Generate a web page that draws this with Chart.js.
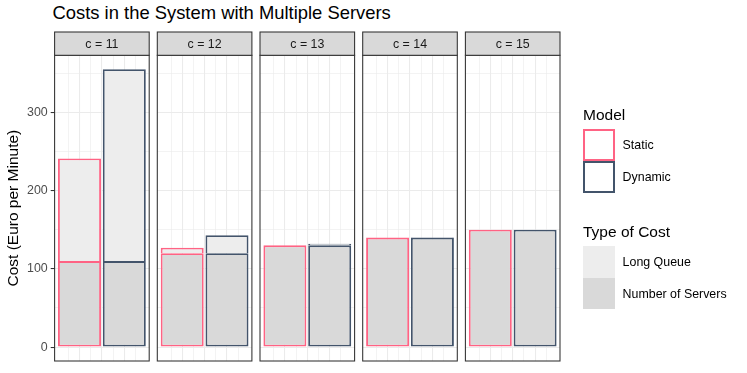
<!DOCTYPE html>
<html><head><meta charset="utf-8">
<script src="https://cdn.jsdelivr.net/npm/chart.js@4"></script>
<style>
body{margin:0;width:747px;height:373px;overflow:hidden;background:#fff;font-family:"Liberation Sans",Arial,sans-serif;}
#wrap{position:relative;width:747px;height:373px;}
canvas{position:absolute;left:0;top:0;}
.t{position:absolute;white-space:nowrap;line-height:20px;height:20px;color:#000;}
.key{position:absolute;box-sizing:border-box;}
</style></head><body><div id="wrap">
<div class="t" style="left:52.5px;top:2.5px;font-size:18.4px">Costs in the System with Multiple Servers</div>
</div>
<script>
// ---- data ----
const facets = ['c = 11', 'c = 12', 'c = 13', 'c = 14', 'c = 15'];
const models = ['Static', 'Dynamic'];
const costTypes = ['Long Queue', 'Number of Servers'];
const serversStatic = [110, 120, 130, 140, 150];
const serversDynamic = [110, 120, 130, 140, 150];
const longQueueStatic = [131, 7, 0, 0, 0];
const longQueueDynamic = [245, 23, 2, 0.4, 0];
const yTicks = [0, 100, 200, 300];

// ---- styles / layout ----
const PINK = 'rgb(255,99,132)', DARK = '#43546B';
const FILL_SERV = '#D9D9D9', FILL_LQ = '#EDEDED';
const W = 747, H = 373;
const PL0 = 54.6, PITCH = 102.7, PW = 94.6, PTOP = 55.3, PBOT = 361, STRIP_TOP = 32;
const yMinorTicks = [50, 150, 250, 350];
const xMajor = [1, 1.5, 2], xMinor = [0.75, 1.25, 1.75, 2.25];
Chart.defaults.font.family = '"Liberation Sans", Arial, sans-serif';

const panelPlugin = {
  id: 'panel',
  afterDraw(chart, args, opts) {
    const {ctx, chartArea: a} = chart;
    ctx.save();
    ctx.strokeStyle = '#333333';
    ctx.lineWidth = 1.07;
    ctx.strokeRect(a.left, a.top, a.right - a.left, a.bottom - a.top);
    ctx.fillStyle = '#D9D9D9';
    ctx.fillRect(a.left, STRIP_TOP, a.right - a.left, a.top - STRIP_TOP);
    ctx.strokeRect(a.left, STRIP_TOP, a.right - a.left, a.top - STRIP_TOP);
    ctx.fillStyle = '#1A1A1A';
    ctx.font = '12.4px "Liberation Sans", Arial, sans-serif';
    ctx.textAlign = 'center';
    ctx.textBaseline = 'alphabetic';
    ctx.fillText(opts.label, (a.left + a.right) / 2, 48.3);
    ctx.restore();
  }
};

const wrap = document.getElementById('wrap');
facets.forEach((f, i) => {
  const cv = document.createElement('canvas');
  cv.width = W; cv.height = H;
  wrap.appendChild(cv);
  const left = PL0 + i * PITCH, right = left + PW;
  const first = i === 0;
  const common = {borderColor: [PINK, DARK], borderWidth: 1.9, barThickness: 43, inflateAmount: 0};
  new Chart(cv, {
    type: 'bar',
    data: {
      datasets: [
        Object.assign({label: costTypes[1], data: [{x: 1, y: serversStatic[i]}, {x: 2, y: serversDynamic[i]}],
          backgroundColor: FILL_SERV, borderSkipped: false}, common),
        Object.assign({label: costTypes[0], data: [{x: 1, y: longQueueStatic[i]}, {x: 2, y: longQueueDynamic[i]}],
          backgroundColor: FILL_LQ, borderSkipped: 'start'}, common)
      ]
    },
    options: {
      responsive: false, animation: false, events: [],
      layout: {padding: {left: first ? 0 : left, right: W - right, top: PTOP, bottom: H - PBOT}},
      plugins: {legend: {display: false}, tooltip: {enabled: false}, panel: {label: f}},
      scales: {
        x: {
          type: 'linear', min: 0.444, max: 2.556, stacked: true, offset: false,
          afterBuildTicks: s => { s.ticks = xMinor.concat(xMajor).sort((a, b) => a - b).map(v => ({value: v})); },
          ticks: {display: false},
          grid: {offset: false, drawTicks: false, color: '#EBEBEB',
            lineWidth: c => (c.tick && xMajor.includes(c.tick.value)) ? 1.07 : 0.6},
          border: {display: false}
        },
        y: {
          type: 'linear', min: -17.75, max: 372.75, stacked: true, offset: false,
          afterBuildTicks: s => { s.ticks = yTicks.concat(yMinorTicks).sort((a, b) => a - b).map(v => ({value: v})); },
          afterFit: first ? (s => { s.width = left; }) : undefined,
          ticks: {display: first, autoSkip: false, padding: 3, color: '#4D4D4D', font: {size: 12.4},
            callback: v => yTicks.includes(v) ? String(v) : ''},
          grid: {drawTicks: first, tickLength: 3.9, color: '#EBEBEB',
            lineWidth: c => (c.tick && yTicks.includes(c.tick.value)) ? 1.07 : 0.6,
            tickColor: c => (c.tick && yTicks.includes(c.tick.value)) ? '#333333' : 'rgba(0,0,0,0)',
            tickWidth: 1.07},
          border: {display: false},
          title: {display: first, text: 'Cost (Euro per Minute)', color: '#000', font: {size: 15.5}, padding: {top: 4.4, bottom: 0}}
        }
      }
    },
    plugins: [panelPlugin]
  });
});

// ---- legend (HTML) ----
function addText(txt, left, top, size) {
  const d = document.createElement('div');
  d.className = 't'; d.textContent = txt;
  d.style.left = left + 'px'; d.style.top = top + 'px'; d.style.fontSize = size + 'px';
  wrap.appendChild(d);
}
function addKey(left, top, w, h, fill, border) {
  const d = document.createElement('div');
  d.className = 'key';
  Object.assign(d.style, {left: left + 'px', top: top + 'px', width: w + 'px', height: h + 'px', background: fill,
    border: border ? ('2px solid ' + border) : 'none'});
  wrap.appendChild(d);
}
addText('Model', 583, 105, 15.5);
addKey(583, 129, 32, 32, '#fff', PINK);
addKey(583, 161, 32, 32, '#fff', DARK);
addText(models[0], 622.6, 135, 12.4);
addText(models[1], 622.6, 167.3, 12.4);
addText('Type of Cost', 583, 221.7, 15.5);
addKey(583, 246, 32, 31.6, FILL_LQ, null);
addKey(583, 277.6, 32, 31.6, FILL_SERV, null);
addText(costTypes[0], 622.6, 251.7, 12.4);
addText(costTypes[1], 622.6, 284, 12.4);
</script>
</body></html>
